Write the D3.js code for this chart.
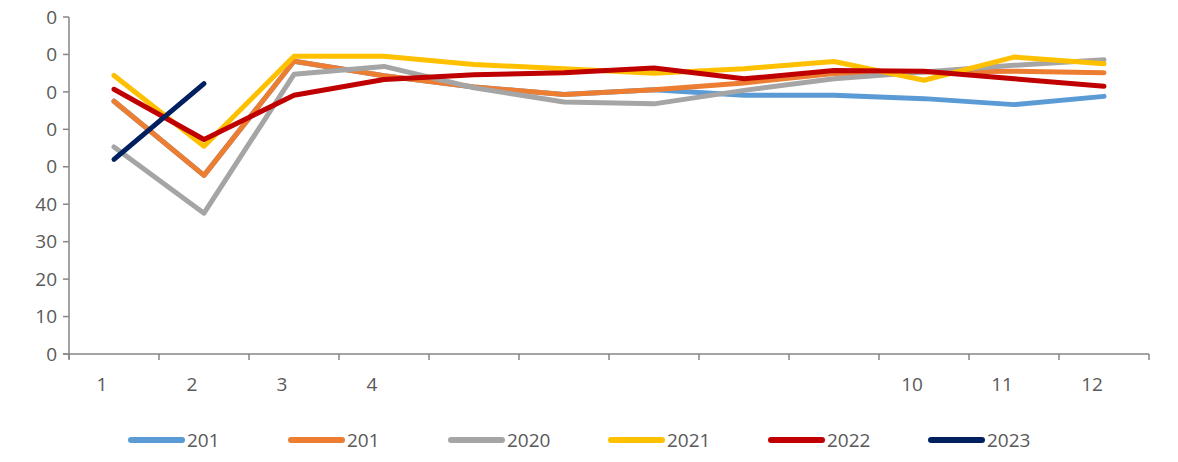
<!DOCTYPE html>
<html>
<head>
<meta charset="utf-8">
<script src="https://cdn.jsdelivr.net/npm/d3@7"></script>
<style>
  body { margin: 0; background: #fff; }
  text { font-family: "Liberation Sans Narrow", "Open Sans", sans-serif; fill: #595959; }
</style>
</head>
<body>
<svg class="chart"></svg>
<script>
var width = 1178, height = 462;

// months on the category axis and what is shown under each
var months = [1, 2, 3, 4, 5, 6, 7, 8, 9, 10, 11, 12];
var monthLabels = ["1", "2", "3", "4", "", "", "", "", "", "10", "11", "12"];

// y ticks and the (clipped) labels shown in the picture
var yTicks = [0, 10, 20, 30, 40, 50, 60, 70, 80, 90];
var yLabels = ["0", "10", "20", "30", "40", "0", "0", "0", "0", "0"];

var legendNames = ["201", "201", "2020", "2021", "2022", "2023"];
var colors = ["#5B9BD5", "#ED7D31", "#A5A5A5", "#FFC000", "#C00000", "#002060"];

var s2018 = [67.5, 47.7, 78.2, 74.3, 71.3, 69.3, 70.6, 69.1, 69.1, 68.2, 66.6, 68.8];
var s2019 = [67.5, 47.7, 78.2, 74.3, 71.3, 69.3, 70.6, 72.4, 74.9, 75.3, 75.5, 75.1];
var s2020 = [55.3, 37.6, 74.7, 76.8, 71.1, 67.3, 66.8, 70.4, 73.5, 75.3, 77.1, 78.6];
var s2021 = [74.4, 55.5, 79.5, 79.5, 77.3, 76.2, 75.0, 76.2, 78.1, 73.1, 79.3, 77.5];
var s2022 = [70.7, 57.3, 69.1, 73.3, 74.6, 75.1, 76.4, 73.5, 75.7, 75.5, 73.5, 71.5];
var s2023 = [52.0, 72.2];

var series = [s2018, s2019, s2020, s2021, s2022, s2023];

var svg = d3.select(".chart")
    .attr("width", width)
    .attr("height", height);

var x = d3.scaleBand()
    .domain(months)
    .range([69, 1149]);

var y = d3.scaleLinear()
    .domain([0, 90])
    .range([354, 17]);

var axisColor = "#868686";

// y axis
svg.append("line")
    .attr("x1", 69).attr("x2", 69)
    .attr("y1", y(90)).attr("y2", y(0) + 5)
    .attr("stroke", axisColor).attr("stroke-width", 1.5);

svg.selectAll(".ytick")
    .data(yTicks)
    .enter().append("line")
    .attr("x1", 63).attr("x2", 69)
    .attr("y1", function (d) { return y(d); })
    .attr("y2", function (d) { return y(d); })
    .attr("stroke", axisColor).attr("stroke-width", 1.5);

svg.selectAll(".ylabel")
    .data(yTicks)
    .enter().append("text")
    .attr("x", 57)
    .attr("y", function (d) { return y(d); })
    .attr("dy", "0.35em")
    .attr("text-anchor", "end")
    .style("font-size", "19px")
    .text(function (d, i) { return yLabels[i]; });

// x axis
svg.append("line")
    .attr("x1", 63).attr("x2", 1149)
    .attr("y1", y(0)).attr("y2", y(0))
    .attr("stroke", axisColor).attr("stroke-width", 1.5);

svg.selectAll(".xtick")
    .data(months.concat([13]))
    .enter().append("line")
    .attr("x1", function (d) { return d == 13 ? x.range()[1] : x(d); })
    .attr("x2", function (d) { return d == 13 ? x.range()[1] : x(d); })
    .attr("y1", y(0)).attr("y2", y(0) + 6)
    .attr("stroke", axisColor).attr("stroke-width", 1.5);

svg.selectAll(".xlabel")
    .data(months)
    .enter().append("text")
    .attr("x", function (d) { return x(d) + x.bandwidth() / 2 - 12; })
    .attr("y", 391)
    .attr("text-anchor", "middle")
    .style("font-size", "19px")
    .text(function (d, i) { return monthLabels[i]; });

// lines
var line = d3.line()
    .x(function (d, i) { return x(months[i]) + x.bandwidth() / 2; })
    .y(function (d) { return y(d); });

svg.selectAll(".series")
    .data(series)
    .enter().append("path")
    .attr("d", line)
    .attr("fill", "none")
    .attr("stroke", function (d, i) { return colors[i]; })
    .attr("stroke-width", 5)
    .attr("stroke-linejoin", "round")
    .attr("stroke-linecap", "round");

// legend
var legend = svg.selectAll(".legend")
    .data(legendNames)
    .enter().append("g")
    .attr("transform", function (d, i) { return "translate(" + (131 + i * 160) + ",440)"; });

legend.append("line")
    .attr("x1", 0).attr("x2", 51)
    .attr("y1", 0).attr("y2", 0)
    .attr("stroke", function (d, i) { return colors[i]; })
    .attr("stroke-width", 6)
    .attr("stroke-linecap", "round");

legend.append("text")
    .attr("x", 56)
    .attr("y", 0)
    .attr("dy", "0.35em")
    .style("font-size", "19px")
    .text(function (d) { return d; });
</script>
</body>
</html>
